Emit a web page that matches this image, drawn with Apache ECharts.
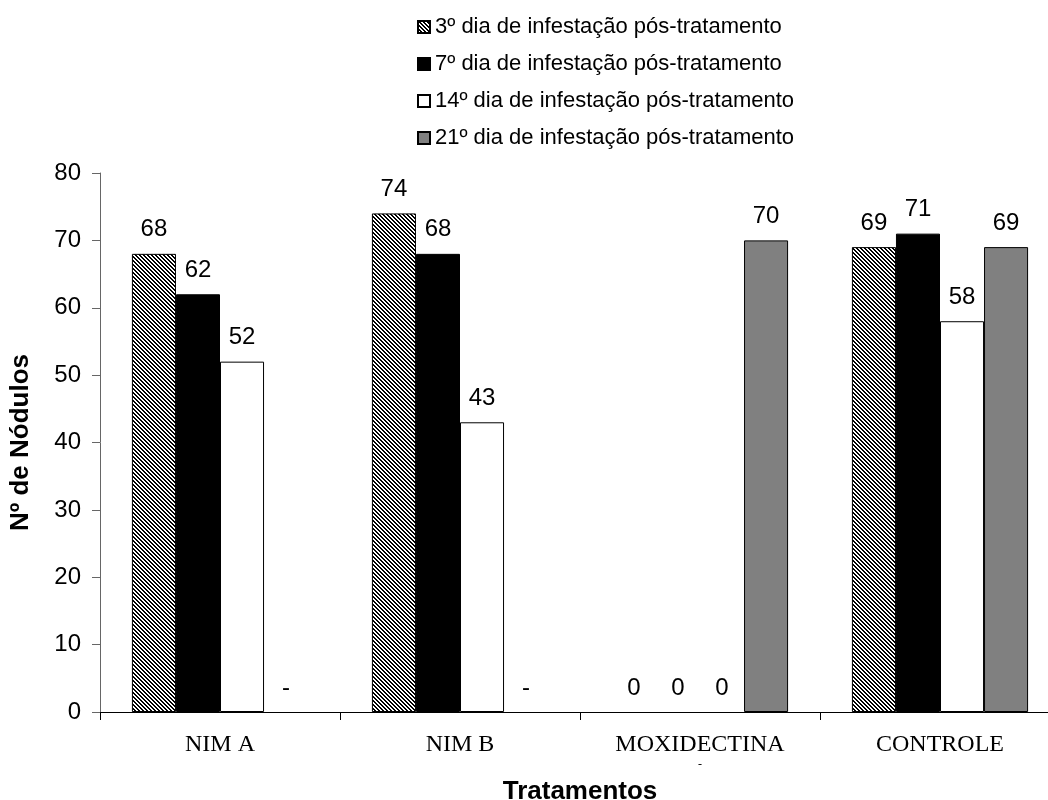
<!DOCTYPE html>
<html>
<head>
<meta charset="utf-8">
<script src="https://cdn.jsdelivr.net/npm/echarts@6/dist/echarts.min.js"></script>
<style>html,body{margin:0;padding:0;background:#fff;overflow:hidden}#c{width:1060px;height:800px}</style>
</head>
<body>
<div id="c"></div>
<script>
const categories = ['NIM A', 'NIM B', 'MOXIDECTINA', 'CONTROLE'];
const seriesNames = [
  '3º dia de infestação pós-tratamento',
  '7º dia de infestação pós-tratamento',
  '14º dia de infestação pós-tratamento',
  '21º dia de infestação pós-tratamento'
];
const day3 = [68, 74, 0, 69];
const day7 = [62, 68, 0, 71];
const day14 = [52, 43, 0, 58];
const day21 = [null, null, 70, 69]; // null = not evaluated, shown as "-"
const yTicks = [0, 10, 20, 30, 40, 50, 60, 70, 80];

function hatch() {
  const c = document.createElement('canvas');
  c.width = 4; c.height = 4;
  const ctx = c.getContext('2d');
  const img = ctx.createImageData(4, 4);
  for (let y = 0; y < 4; y++) for (let x = 0; x < 4; x++) {
    const black = ((x - y + 8) % 4) < 2;
    const i = (y * 4 + x) * 4;
    const v = black ? 0 : 255;
    img.data[i] = v; img.data[i + 1] = v; img.data[i + 2] = v; img.data[i + 3] = 255;
  }
  ctx.putImageData(img, 0, 0);
  return c;
}

const fills = [{ image: hatch(), repeat: 'repeat' }, '#000000', '#ffffff', '#808080'];
const allData = [day3, day7, day14, day21];

const chart = echarts.init(document.getElementById('c'), null, { renderer: 'canvas' });
const font = 'Liberation Sans, Arial, sans-serif';

chart.setOption({
  animation: false,
  backgroundColor: '#fff',
  textStyle: { fontFamily: font },
  legend: {
    orient: 'vertical',
    left: 412,
    top: 11,
    itemWidth: 12,
    itemHeight: 12,
    itemGap: 15,
    icon: 'rect',
    textStyle: { fontFamily: font, fontSize: 22, color: '#000', lineHeight: 22 },
    data: seriesNames
  },
  grid: { left: 100, right: 0, top: 173, bottom: 88, containLabel: false, outerBoundsMode: 'none' },
  xAxis: {
    type: 'category',
    data: categories,
    name: 'Tratamentos',
    nameLocation: 'middle',
    nameGap: 67,
    nameMoveOverlap: false,
    nameTextStyle: { fontFamily: font, fontSize: 26, fontWeight: 'bold', color: '#000' },
    axisLine: { lineStyle: { color: '#000', width: 1 } },
    axisTick: { show: true, length: 8, lineStyle: { color: '#000' } },
    axisLabel: {
      fontFamily: 'Liberation Serif, Times New Roman, serif',
      fontSize: 24,
      color: '#000',
      margin: 20,
      lineHeight: 26,
      formatter: function (v) { return v === 'MOXIDECTINA' ? v + '\n{d|-}' : v; },
      rich: { d: { fontSize: 12, lineHeight: 14, fontFamily: 'Liberation Serif, serif' } }
    }
  },
  yAxis: {
    type: 'value',
    min: yTicks[0],
    max: yTicks[yTicks.length - 1],
    interval: 10,
    name: 'Nº de Nódulos',
    nameLocation: 'middle',
    nameGap: 66,
    nameMoveOverlap: false,
    nameTextStyle: { fontFamily: font, fontSize: 26, fontWeight: 'bold', color: '#000' },
    axisLine: { show: true, lineStyle: { color: '#666', width: 1 } },
    axisTick: { show: true, length: 8, lineStyle: { color: '#666' } },
    axisLabel: { fontFamily: font, fontSize: 24, color: '#000', margin: 19 },
    splitLine: { show: false }
  },
  series: seriesNames.map(function (name, si) {
    return {
      name: name,
      type: 'bar',
      barGap: '0%',
      barCategoryGap: '26.6%',
      itemStyle: { color: fills[si], borderColor: '#000', borderWidth: 1 },
      label: {
        show: true,
        position: 'top',
        distance: 12,
        fontFamily: font,
        fontSize: 24,
        color: '#000'
      },
      data: allData[si].map(function (v) {
        if (v === null) {
          return { value: 0, itemStyle: { color: 'rgba(0,0,0,0)', borderWidth: 0 }, label: { formatter: '-' } };
        }
        if (v === 0) {
          return { value: 0, itemStyle: { borderWidth: 0 } };
        }
        return v;
      })
    };
  })
});
</script>
</body>
</html>
